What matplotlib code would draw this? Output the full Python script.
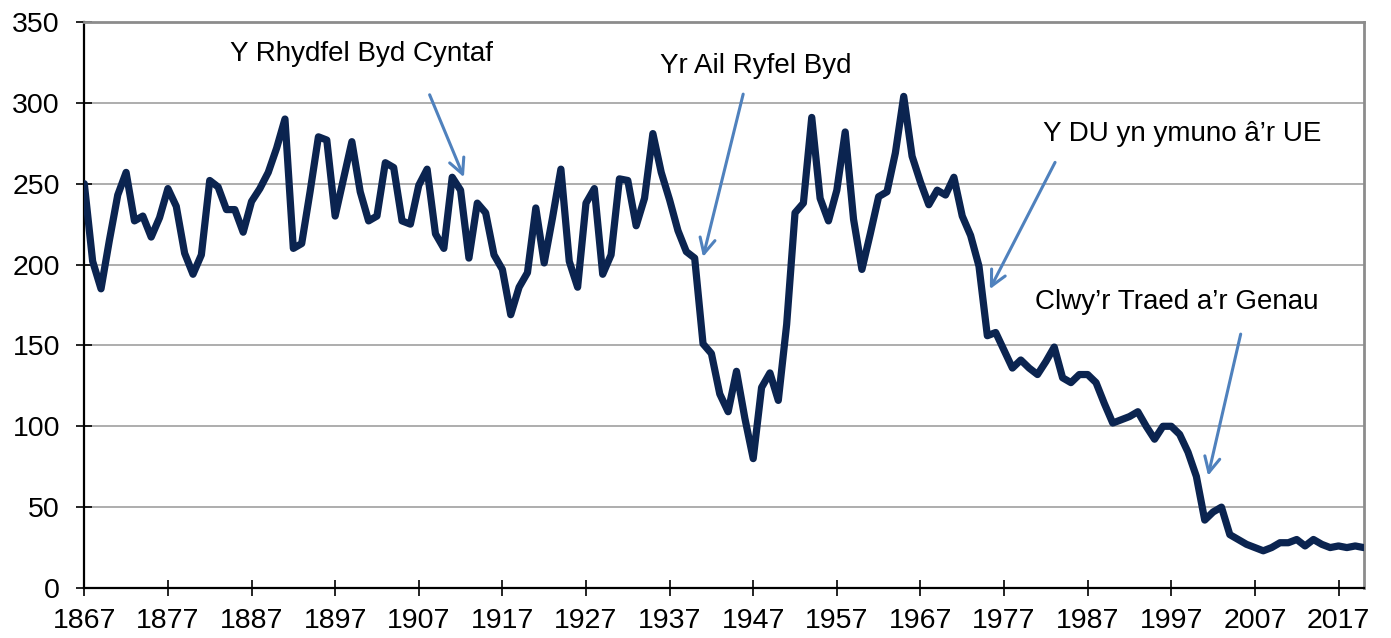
import matplotlib
matplotlib.use("Agg")
import matplotlib.pyplot as plt

# yearly values, 1867-2020
years = list(range(1867, 2021))
values = [
    250, 202, 185, 215, 243, 257, 227, 230, 217, 229,
    247, 236, 207, 194, 206, 252, 248, 234, 234, 220,
    239, 247, 257, 272, 290, 210, 213, 245, 279, 277,
    230, 253, 276, 245, 227, 230, 263, 260, 227, 225,
    249, 259, 219, 210, 254, 246, 204, 238, 232, 206,
    197, 169, 186, 195, 235, 201, 229, 259, 202, 186,
    238, 247, 194, 206, 253, 252, 224, 241, 281, 257,
    240, 221, 208, 204, 151, 145, 120, 109, 134, 105,
    80, 124, 133, 116, 163, 232, 238, 291, 241, 227,
    246, 282, 228, 197, 219, 242, 245, 269, 304, 267,
    251, 237, 246, 243, 254, 230, 218, 199, 156, 158,
    147, 136, 141, 136, 132, 140, 149, 130, 127, 132,
    132, 127, 114, 102, 104, 106, 109, 100, 92, 100,
    100, 95, 84, 69, 42, 47, 50, 33, 30, 27,
    25, 23, 25, 28, 28, 30, 26, 30, 27, 25,
    26, 25, 26, 25,
]

x_ticks = list(range(1867, 2018, 10))
y_ticks = [0, 50, 100, 150, 200, 250, 300, 350]

# annotation labels: text, text position, arrow start, arrow tip
labels = ["Y Rhydfel Byd Cyntaf", "Yr Ail Ryfel Byd",
          "Y DU yn ymuno â\u2019r UE", "Clwy\u2019r Traed a\u2019r Genau"]
label_pos = [(1900.1, 330.3), (1947.3, 322.9), (1998.3, 280.6), (1997.7, 176.6)]
arrow_start = [(1908.3, 305.0), (1945.8, 305.4), (1983.1, 263.2), (2005.3, 157.0)]
arrow_tip = [(1912.4, 254.0), (1941.0, 204.7), (1975.3, 184.8), (2001.4, 69.4)]

fig = plt.figure(figsize=(13.91, 6.38), dpi=100)
ax = fig.add_axes([84.3 / 1391, 1 - 588 / 638, (1363.6 - 84.3) / 1391, (588 - 22) / 638])

ax.plot(years, values, color="#0b2450", linewidth=5.2, solid_joinstyle="round",
        solid_capstyle="round", zorder=3)

ax.set_xlim(1867, 2020)
ax.set_ylim(0, 350)
ax.set_xticks(x_ticks)
ax.set_yticks(y_ticks)
ax.set_xticklabels([str(t) for t in x_ticks], fontfamily="Liberation Sans", fontsize=20.5)
ax.set_yticklabels([str(t) for t in y_ticks], fontfamily="Liberation Sans", fontsize=20.5)
ax.tick_params(axis="both", direction="inout", length=11, width=1.2, color="black")
ax.tick_params(axis="y", pad=12)
ax.tick_params(axis="x", pad=9)

ax.grid(axis="y", color="#a0a0a0", linewidth=1.2)
ax.set_axisbelow(True)

for side in ["left", "bottom"]:
    ax.spines[side].set_color("black")
    ax.spines[side].set_linewidth(1.6)
for side in ["top", "right"]:
    ax.spines[side].set_color("#8c8c8c")
    ax.spines[side].set_linewidth(2)

for text, pos, start, tip in zip(labels, label_pos, arrow_start, arrow_tip):
    ax.text(pos[0], pos[1], text, ha="center", va="center",
            fontfamily="Liberation Sans", fontsize=20, color="black")
    ax.annotate("", xy=tip, xytext=start,
                arrowprops=dict(arrowstyle="->,head_length=1.1,head_width=0.55",
                                color="#4f81bd", linewidth=2.2,
                                shrinkA=0, shrinkB=0),
                zorder=4)

fig.savefig("out.png", dpi=100)
